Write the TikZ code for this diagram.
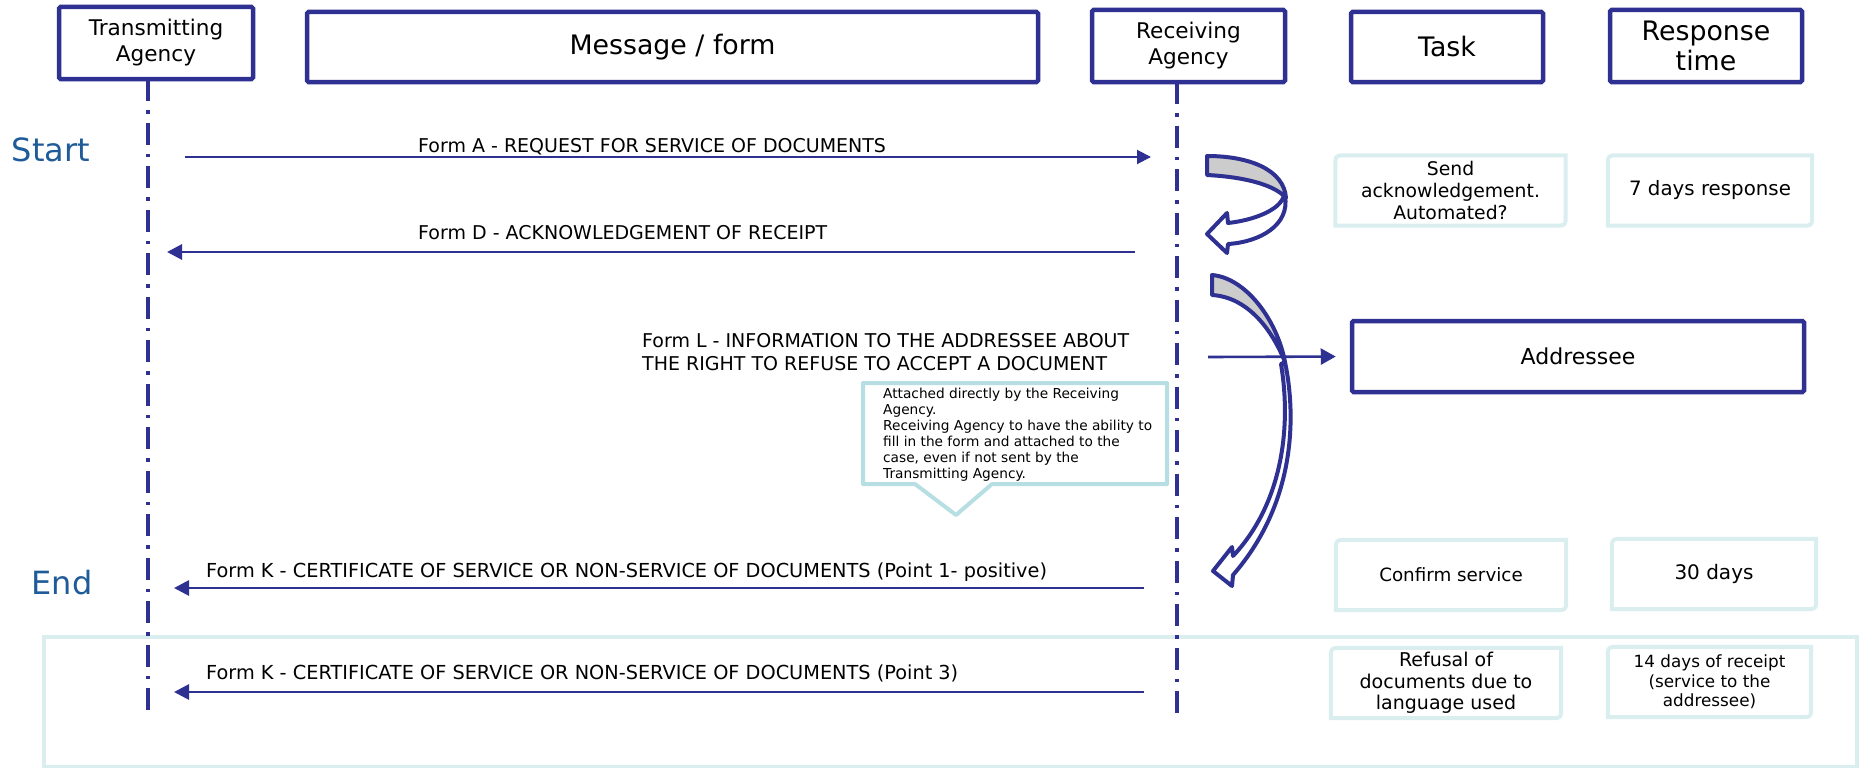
\documentclass[tikz,border=0pt]{standalone}
\usepackage{fontspec}
\setmainfont{DejaVu Sans}
\usetikzlibrary{arrows.meta}
\definecolor{navy}{RGB}{46,49,146}
\definecolor{startblue}{RGB}{31,91,153}
\definecolor{tealL}{RGB}{218,238,240}
\definecolor{tealM}{RGB}{183,223,227}
\definecolor{grayfill}{RGB}{204,204,204}
\newcommand\fsz[2]{\fontsize{#1}{#2}\selectfont}
\newcommand\tboxborder[1]{\draw[tline] (#1.south west) -- ([yshift=-12pt]#1.north west) .. controls (#1.north west) .. ([xshift=12pt]#1.north west) -- (#1.north east) -- ([yshift=12pt]#1.south east) .. controls (#1.south east) .. ([xshift=-12pt]#1.south east) -- cycle;}
\begin{document}
\begin{tikzpicture}[x=1pt,y=-1pt,
  hdr/.style={draw=navy, line width=4.5pt, rounded corners=1.5pt, fill=white, align=center, inner sep=0pt},
  life/.style={navy, line width=4pt, dash pattern=on 22pt off 9pt on 3.5pt off 9pt},
  msgarrow/.style={navy, line width=2.8pt, -{Triangle[length=15pt,width=15pt]}},
  lbl/.style={inner sep=0pt, font=\fsz{19}{23}},
  klbl/.style={inner sep=0pt, font=\fsz{19.3}{23}},
  tbox/.style={inner sep=0pt, align=center, minimum height=70pt},
  tline/.style={draw=tealL, line width=4pt},
  callout/.style={draw=tealM, line width=4pt, line join=round},
  curv/.style={draw=navy, line width=4pt, line join=round},
  grp/.style={draw=tealL, line width=4pt, inner sep=0pt},
  startend/.style={inner sep=0pt, text=startblue, font=\fsz{32}{36}}
]
\useasboundingbox (0,0) rectangle (1860,768);

% group frame
\node[grp, minimum width=1813pt, minimum height=130pt] (grp) at (950.5,702) {};

% headers
\node[hdr, minimum width=194pt, minimum height=72pt, font=\fsz{21.6}{26}] (ta) at (156,43) {Transmitting\\Agency};
\node[hdr, minimum width=731pt, minimum height=70pt, font=\fsz{26.8}{30}] (msg) at (672.5,47) {Message / form};
\node[hdr, minimum width=193pt, minimum height=72pt, font=\fsz{21.6}{26}] (ra) at (1188.5,46) {Receiving\\Agency};
\node[hdr, minimum width=192pt, minimum height=70pt, font=\fsz{26.8}{30}] (task) at (1447,47) {Task};
\node[hdr, minimum width=192pt, minimum height=72pt, font=\fsz{26.8}{30}] (resp) at (1706,46) {Response\\time};

% lifelines
\coordinate (taTop) at (148,79);
\coordinate (taBot) at (148,712);
\coordinate (raTop) at (1177,82);
\coordinate (raBot) at (1177,720);
\draw[life] (taTop) -- (taBot);
\draw[life] (raTop) -- (raBot);

% start / end
\node[startend] (start) at (51,150) {Start};
\node[startend] (end) at (62,583) {End};

% messages
\coordinate (aS) at (185,157);  \coordinate (aE) at (1151,157);
\draw[navy, line width=2pt, -{Triangle[length=14pt,width=14pt]}] (aS) -- (aE);
\node[lbl, anchor=base west] (la) at (418,152) {Form A - REQUEST FOR SERVICE OF DOCUMENTS};

\coordinate (dS) at (1135,252); \coordinate (dE) at (167,252);
\draw[msgarrow] (dS) -- (dE);
\node[lbl, anchor=base west] (ld) at (418,239) {Form D - ACKNOWLEDGEMENT OF RECEIPT};

\node[lbl, anchor=north west, align=left] (ll) at (642,333) {Form L - INFORMATION TO THE ADDRESSEE ABOUT\\THE RIGHT TO REFUSE TO ACCEPT A DOCUMENT};

\coordinate (k1S) at (1144,588); \coordinate (k1E) at (174,588);
\draw[msgarrow] (k1S) -- (k1E);
\node[klbl, anchor=base west] (lk1) at (206,577) {Form K - CERTIFICATE OF SERVICE OR NON-SERVICE OF DOCUMENTS (Point 1- positive)};

\coordinate (k2S) at (1144,692); \coordinate (k2E) at (174,692);
\draw[msgarrow] (k2S) -- (k2E);
\node[klbl, anchor=base west] (lk2) at (206,679) {Form K - CERTIFICATE OF SERVICE OR NON-SERVICE OF DOCUMENTS (Point 3)};

% callout
\coordinate (cTip) at (956,515);
\draw[callout] (863,383) -- (1167,383) -- (1167,484) -- (992,484) -- (cTip) -- (915,484) -- (863,484) -- cycle;
\node[inner sep=0pt, anchor=north west, align=left, font=\fsz{13.7}{16}] (note) at (883,388) {Attached directly by the Receiving\\Agency.\\Receiving Agency to have the ability to\\fill in the form and attached to the\\case, even if not sent by the\\Transmitting Agency.};

% small curved arrow
\draw[curv, fill=white] (1285,196) .. controls (1290,225) and (1260,242) .. (1228,244) -- (1227,253) -- (1207,234) -- (1227,213) -- (1228,223) .. controls (1255,220) and (1278,210) .. (1283,198) -- cycle;
\draw[curv, fill=grayfill] (1207,156) .. controls (1250,156) and (1284,170) .. (1286,198) .. controls (1275,185) and (1245,177) .. (1207,175) -- cycle;

% big curved arrow
\draw[curv, fill=white] (1285,362) .. controls (1297,420) and (1294,505) .. (1233,575) -- (1232,586) -- (1213,571) -- (1232,547) -- (1233,556) .. controls (1281,505) and (1292,430) .. (1281,364) -- cycle;
\draw[curv, fill=grayfill] (1212,275) .. controls (1246,278) and (1277,320) .. (1285,362) .. controls (1270,325) and (1245,297) .. (1212,295) -- cycle;

% addressee
\node[hdr, minimum width=452pt, minimum height=71pt, font=\fsz{22}{26}] (addr) at (1578,356.5) {Addressee};
\coordinate (adS) at (1208,357);
\draw[navy, line width=2.6pt, -{Triangle[length=15pt,width=16pt]}, shorten >=14pt] (adS) -- (addr.west);

% task boxes
\node[tbox, minimum width=230pt, font=\fsz{18.8}{21.7}] (sendack) at (1450.5,190.5) {Send\\acknowledgement.\\Automated?};
\tboxborder{sendack}
\node[tbox, minimum width=204pt, font=\fsz{19.8}{21.7}] (seven) at (1710,190.5) {7 days response};
\tboxborder{seven}
\node[tbox, minimum width=230pt, font=\fsz{18.3}{21.7}] (confirm) at (1451,575) {Confirm service};
\tboxborder{confirm}
\node[tbox, minimum width=204pt, font=\fsz{20}{21.7}] (thirty) at (1714,574) {30 days};
\tboxborder{thirty}
\node[tbox, minimum width=230pt, font=\fsz{19}{21.7}] (refusal) at (1446,683) {Refusal of\\documents due to\\language used};
\tboxborder{refusal}
\node[tbox, minimum width=203pt, font=\fsz{16.8}{19.5}] (fourteen) at (1709.5,682) {14 days of receipt\\(service to the\\addressee)};
\tboxborder{fourteen}
\end{tikzpicture}
\end{document}
